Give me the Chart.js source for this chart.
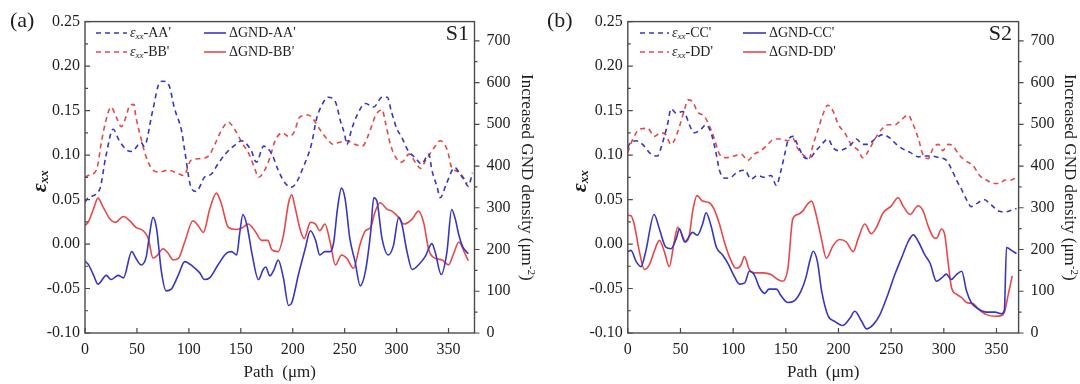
<!DOCTYPE html>
<html><head><meta charset="utf-8">
<script src="https://cdn.jsdelivr.net/npm/chart.js@4.4.0/dist/chart.umd.min.js"></script>
<style>
html,body{margin:0;padding:0;background:#fff;width:1080px;height:384px;overflow:hidden}
.p{position:absolute;top:0;width:540px;height:384px}
canvas{display:block}
</style></head><body>
<div class="p" style="left:0"><canvas id="ca" width="540" height="384"></canvas></div>
<div class="p" style="left:540px"><canvas id="cb" width="540" height="384"></canvas></div>
<script>
// ---------- tick labels ----------
const xTicks = [0, 50, 100, 150, 200, 250, 300, 350];
const strainTicks = [-0.10, -0.05, 0.00, 0.05, 0.10, 0.15, 0.20, 0.25];
const strainMinor = [-0.075, -0.025, 0.025, 0.075, 0.125, 0.175, 0.225];
const gndTicks = [0, 100, 200, 300, 400, 500, 600, 700];
const gndMinor = [50, 150, 250, 350, 450, 550, 650];

// ---------- panel (a) S1 ----------
const epsAA_x = [0,3,14,20,27,33,41,45,54,57,65,72,75,81,86,93,96,102,107,115,122,128,135,143,151,160,165,172,180,186,193,199,204,210,218,223,228,234,241,246,250,252,257,262,270,278,286,291,295,300,305,311,318,324,331,334,339,342,348,356,361,365,369,373];
const epsAA = [0.047,0.052,0.061,0.098,0.129,0.116,0.105,0.104,0.114,0.110,0.149,0.182,0.183,0.178,0.153,0.127,0.105,0.064,0.059,0.075,0.079,0.090,0.101,0.110,0.116,0.105,0.092,0.110,0.101,0.083,0.068,0.064,0.070,0.086,0.112,0.141,0.156,0.165,0.160,0.138,0.123,0.112,0.130,0.145,0.158,0.154,0.165,0.165,0.149,0.130,0.120,0.105,0.097,0.090,0.101,0.083,0.064,0.052,0.068,0.086,0.079,0.072,0.065,0.080];

const epsBB_x = [0,3,11,16,20,25,30,35,40,43,47,49,53,58,64,72,80,90,95,102,111,119,125,131,138,144,151,158,164,167,173,178,183,190,196,201,207,215,220,226,233,239,244,252,260,267,273,280,286,289,294,300,305,312,318,323,328,336,342,349,353,360,368];
const epsBB = [0.075,0.077,0.083,0.116,0.138,0.154,0.143,0.132,0.145,0.156,0.157,0.143,0.123,0.101,0.085,0.081,0.083,0.079,0.077,0.094,0.096,0.099,0.112,0.127,0.137,0.129,0.114,0.101,0.083,0.075,0.083,0.097,0.116,0.125,0.121,0.125,0.143,0.145,0.140,0.129,0.118,0.112,0.114,0.116,0.112,0.110,0.123,0.145,0.151,0.138,0.112,0.096,0.092,0.101,0.092,0.085,0.094,0.108,0.116,0.105,0.086,0.081,0.068];

const gndAA_x = [0,3,8,12.5,20.5,25,32,37,45,49,54,59,62,65.5,69,73.5,78,83,90,96,104,110.5,115,120,128,136,141,146,149,152,156,161,167,171.5,174,178,182,186,191,196,199,205.5,212,217,222,226,231,236,239.5,243,247,250.5,255,260,265,270,275,278,281,286,292,297,302,305,310,315,321,327.5,334,337,343,348.5,353,356.5,360,364,369];
const gndAA = [172,165,140,117,138,128,138,132,195,179,163,183,234,277,249,148,101,105,140,171,159,144,128,132,163,191,195,187,240,284,257,187,128,152,158,137,152,175,132,66,72,140,202,245,222,187,195,195,218,296,347,320,226,171,113,148,241,324,316,226,187,210,277,261,195,152,163,183,214,195,140,195,296,273,234,205,190];

const gndBB_x = [0,3,8,12.5,17,24,29,37,43,49,56,61,65.5,70,75,80,85,90,96,104,109,114,120,126.5,131,138,146,152,157,163.5,170,176,180,186,191,196,199,202,207,211,217,222,226,231,236,241,247,252,258.5,265,270,275,279,284,291,295.5,302,307,315,321,326,331,337,344,350,355,360,365,369];
const gndBB = [258,265,296,323,304,273,265,279,269,253,245,226,179,187,202,191,175,179,218,269,257,241,296,335,312,253,248,253,261,245,222,222,199,195,234,312,331,304,249,226,265,261,245,261,218,163,187,179,155,214,245,253,288,312,296,292,277,261,273,292,265,199,179,175,163,191,218,195,173];

// ---------- panel (b) S2 ----------
const epsCC_x = [0,1.4,8,14,22,28,33,38,41,46,52,55,58.5,63,69.5,74,79,84,87,92,98,104,111,117,123,130,136,141,145.5,149,152,157,161,168,172,177.5,184,190,195,200,206,212,217,223,228,234.5,242,249,255,261,268,276,282,288,296,302.5,307,312,317,321.5,326,332,338,345,352,358,364,369];
const epsCC = [0.108,0.112,0.116,0.112,0.101,0.099,0.114,0.136,0.152,0.147,0.149,0.145,0.134,0.125,0.129,0.134,0.125,0.101,0.083,0.074,0.075,0.081,0.083,0.073,0.077,0.075,0.077,0.066,0.083,0.101,0.116,0.121,0.112,0.097,0.096,0.103,0.112,0.118,0.108,0.105,0.107,0.112,0.118,0.112,0.112,0.118,0.123,0.119,0.112,0.107,0.103,0.098,0.099,0.099,0.097,0.094,0.085,0.072,0.061,0.050,0.042,0.046,0.050,0.044,0.037,0.036,0.038,0.040];

const epsDD_x = [0,1.4,6,11,19,25,31.5,36,41,44,49,54,57,61.6,66,73,77,82,87,93,101,107.5,114,120,126.5,133,139,145.5,152,156.6,161,167.6,172,176,181,185,190,195,200,206,212,219,223,230,234.5,241,247,253.5,260,266,271,276,280,285,290,295,299,304,309,314,320,328,334,340.5,347,353,358,364,369];
const epsDD = [0.103,0.108,0.121,0.129,0.130,0.121,0.125,0.123,0.112,0.116,0.132,0.152,0.162,0.160,0.149,0.143,0.134,0.119,0.101,0.097,0.099,0.101,0.094,0.101,0.105,0.112,0.118,0.118,0.116,0.119,0.108,0.099,0.096,0.112,0.130,0.145,0.156,0.149,0.134,0.125,0.112,0.105,0.097,0.108,0.118,0.129,0.134,0.134,0.140,0.145,0.134,0.118,0.101,0.096,0.108,0.112,0.105,0.112,0.110,0.101,0.094,0.088,0.077,0.072,0.068,0.068,0.072,0.072,0.075];

const gndCC_x = [0,3,8,12.5,17,25,30,36,41,46,49,54,61.6,66,71,74.3,79,84,90,95,101,106,111,115.4,120,125,130,134,141,145.5,152,158,164.5,169,173,176,180,184,190,196.5,204,211,215.5,222,226.6,233,239,247,253.5,261,266,271,276,282,287,293,298,302.5,307,312,317,321.5,326,332.6,340.5,348.5,355,357.5,359.5,363,369];
const gndCC = [195,198,171,159,195,284,249,206,202,226,249,218,241,234,261,288,257,206,187,167,136,117,120,148,140,109,95,105,105,89,73,77,101,132,175,196,171,101,42,28,18,36,52,28,10,20,42,93,140,187,218,235,218,187,167,124,132,141,128,140,148,101,73,58,50,50,46,55,205,200,190];

const gndDD_x = [0,3,6,11,15.7,20.4,25,30,34.7,39.4,44,47.4,50.5,55,58.4,61.6,65.7,71,77.4,82,87,91.7,96.4,102.8,107.5,110.7,115.4,120,128,136,142.4,147,152,156.6,161.4,166,171,174.5,179,183.8,188.5,195,201,207.5,214,218.7,225,231,236,242.4,250,256.6,261.4,268,275.6,280.4,285,290,293,297.8,301,304,307.3,312,317,321.5,328,332.6,340.5,348.5,355,358,361,365];
const gndDD = [282,281,261,195,152,163,195,222,195,159,218,253,241,218,234,292,329,316,312,296,261,218,183,155,163,183,152,144,144,140,128,124,155,273,284,292,310,316,281,226,179,210,224,218,195,226,261,238,253,288,304,324,304,284,305,292,257,230,227,249,234,171,109,93,85,73,70,58,44,40,42,54,90,137];

// ---------- drawing ----------
const SERIF = '"Liberation Serif","Times New Roman",Times,serif';
const BLUE = '#3636c4';
const RED = '#e64848';
const AXIS = '#4a4a4a';
const TXT = '#1e1e1e';

function pts(xs, ys){ return xs.map((x,i)=>({x:x, y:ys[i]})); }

function build(id, o){
  const deco = {
    id:'deco',
    afterDraw(chart){
      const c = chart.ctx, a = chart.chartArea;
      const sx = chart.scales.x, sl = chart.scales.yL, sr = chart.scales.yR;
      c.save();
      c.setLineDash([]);
      c.strokeStyle = AXIS; c.lineWidth = 1.4;
      c.strokeRect(a.left, a.top, a.right - a.left, a.bottom - a.top);
      c.lineWidth = 1.2;
      c.beginPath();
      strainTicks.forEach(v=>{const y=sl.getPixelForValue(v); c.moveTo(a.left,y); c.lineTo(a.left+5,y);});
      strainMinor.forEach(v=>{const y=sl.getPixelForValue(v); c.moveTo(a.left,y); c.lineTo(a.left+3,y);});
      xTicks.forEach(v=>{const x=sx.getPixelForValue(v); c.moveTo(x,a.bottom); c.lineTo(x,a.bottom-5);});
      gndTicks.forEach(v=>{const y=sr.getPixelForValue(v); c.moveTo(a.right,y); c.lineTo(a.right+5,y);});
      gndMinor.forEach(v=>{const y=sr.getPixelForValue(v); c.moveTo(a.right,y); c.lineTo(a.right+3,y);});
      c.stroke();

      c.fillStyle = TXT;
      c.font = '22px ' + SERIF; c.textBaseline = 'middle'; c.textAlign = 'left';
      c.fillText(o.letter, o.letterX, 21);
      c.textAlign = 'right';
      c.fillText(o.tag, o.tagX, 34);

      const ds = chart.data.datasets;
      const rows = [[ds[0], ds[2]], [ds[1], ds[3]]];
      const ry = [33, 52];
      rows.forEach((r, i)=>{
        const y = ry[i];
        c.strokeStyle = r[0].borderColor; c.lineWidth = 1.6; c.setLineDash([5,4]);
        c.beginPath(); c.moveTo(o.lg[0], y); c.lineTo(o.lg[1], y); c.stroke();
        c.setLineDash([]);
        c.beginPath(); c.moveTo(o.lg[3], y); c.lineTo(o.lg[4], y); c.stroke();
        c.fillStyle = TXT; c.textAlign = 'left'; c.textBaseline = 'middle';
        let x = o.lg[2];
        c.font = 'italic 14px ' + SERIF; c.fillText('ε', x, y); x += c.measureText('ε').width;
        c.font = 'italic 9px ' + SERIF; c.fillText('xx', x, y + 4); x += c.measureText('xx').width;
        c.font = '14px ' + SERIF; c.fillText(r[0].label.split('|')[1], x, y);
        c.fillText(r[1].label, o.lg[5], y);
      });

      c.save();
      c.translate(o.yTitleX, (a.top + a.bottom)/2 + 4);
      c.rotate(-Math.PI/2);
      c.font = 'bold italic 22px ' + SERIF;
      const w1 = c.measureText('ε').width;
      c.font = 'bold italic 13px ' + SERIF;
      const w2 = c.measureText('xx').width;
      let tx = -(w1 + w2)/2;
      c.textAlign = 'left'; c.textBaseline = 'middle';
      c.font = 'bold italic 22px ' + SERIF; c.fillText('ε', tx, 0);
      c.font = 'bold italic 13px ' + SERIF; c.fillText('xx', tx + w1, 5);
      c.restore();

      c.save();
      c.translate(o.rTitleX, (a.top + a.bottom)/2);
      c.rotate(Math.PI/2);
      const t1 = 'Increased GND density (μm', t2 = '-2', t3 = ')';
      c.font = '17px ' + SERIF; const m1 = c.measureText(t1).width, m3 = c.measureText(t3).width;
      c.font = '11px ' + SERIF; const m2 = c.measureText(t2).width;
      let rx = -(m1 + m2 + m3)/2;
      c.textAlign = 'left'; c.textBaseline = 'middle';
      c.font = '17px ' + SERIF; c.fillText(t1, rx, 0);
      c.font = '11px ' + SERIF; c.fillText(t2, rx + m1, -5);
      c.font = '17px ' + SERIF; c.fillText(t3, rx + m1 + m2, 0);
      c.restore();

      c.font = '17px ' + SERIF; c.textAlign = 'center'; c.textBaseline = 'middle';
      c.fillText('Path  (μm)', (a.left + a.right)/2, 373);
      c.restore();
    }
  };

  const datasets = [
    {label:o.names[0], data:pts(o.s[0][0], o.s[0][1]), borderColor:BLUE, borderDash:[5,4], yAxisID:'yL'},
    {label:o.names[1], data:pts(o.s[1][0], o.s[1][1]), borderColor:RED, borderDash:[5,4], yAxisID:'yL'},
    {label:o.names[2], data:pts(o.s[2][0], o.s[2][1]), borderColor:BLUE, yAxisID:'yR'},
    {label:o.names[3], data:pts(o.s[3][0], o.s[3][1]), borderColor:RED, yAxisID:'yR'}
  ];
  const tickFont = {family:SERIF, size:16};
  new Chart(document.getElementById(id), {
    type:'line',
    data:{datasets:datasets},
    options:{
      responsive:false, animation:false, devicePixelRatio:1,
      layout:{padding:{top:14.5, left:0, right:0, bottom:0}},
      elements:{point:{radius:0}, line:{borderWidth:1.6, cubicInterpolationMode:'monotone', fill:false}},
      plugins:{legend:{display:false}, tooltip:{enabled:false}},
      scales:{
        x:{type:'linear', position:'bottom', min:0, max:o.xmax,
           grid:{display:false, drawTicks:false}, border:{display:false},
           ticks:{font:tickFont, color:TXT, padding:7, maxRotation:0},
           afterBuildTicks:s=>{s.ticks = xTicks.map(v=>({value:v}));},
           afterFit:s=>{s.height = 384 - 333;}},
        yL:{type:'linear', position:'left', min:-0.10, max:0.25,
           grid:{display:false, drawTicks:false}, border:{display:false},
           ticks:{font:tickFont, color:TXT, padding:5, callback:v=>Number(v).toFixed(2)},
           afterBuildTicks:s=>{s.ticks = strainTicks.map(v=>({value:v}));},
           afterFit:s=>{s.width = o.left;}},
        yR:{type:'linear', position:'right', min:0, max:746,
           grid:{display:false, drawTicks:false}, border:{display:false},
           ticks:{font:tickFont, color:TXT, padding:12, callback:v=>String(v)},
           afterBuildTicks:s=>{s.ticks = gndTicks.map(v=>({value:v}));},
           afterFit:s=>{s.width = 540 - o.right;}}
      }
    },
    plugins:[deco]
  });
}

build('ca', {
  letter:'(a)', letterX:10, tag:'S1', tagX:469,
  left:85, right:474.5, xmax:375,
  yTitleX:40, rTitleX:526,
  lg:[96,127,130,204,226,229],
  names:["ε|-AA'", "ε|-BB'", "ΔGND-AA'", "ΔGND-BB'"],
  s:[[epsAA_x, epsAA],[epsBB_x, epsBB],[gndAA_x, gndAA],[gndBB_x, gndBB]]
});
build('cb', {
  letter:'(b)', letterX:7, tag:'S2', tagX:472,
  left:87.8, right:478.6, xmax:371,
  yTitleX:40, rTitleX:529,
  lg:[100,129,132,203,226,229],
  names:["ε|-CC'", "ε|-DD'", "ΔGND-CC'", "ΔGND-DD'"],
  s:[[epsCC_x, epsCC],[epsDD_x, epsDD],[gndCC_x, gndCC],[gndDD_x, gndDD]]
});
</script>
</body></html>
